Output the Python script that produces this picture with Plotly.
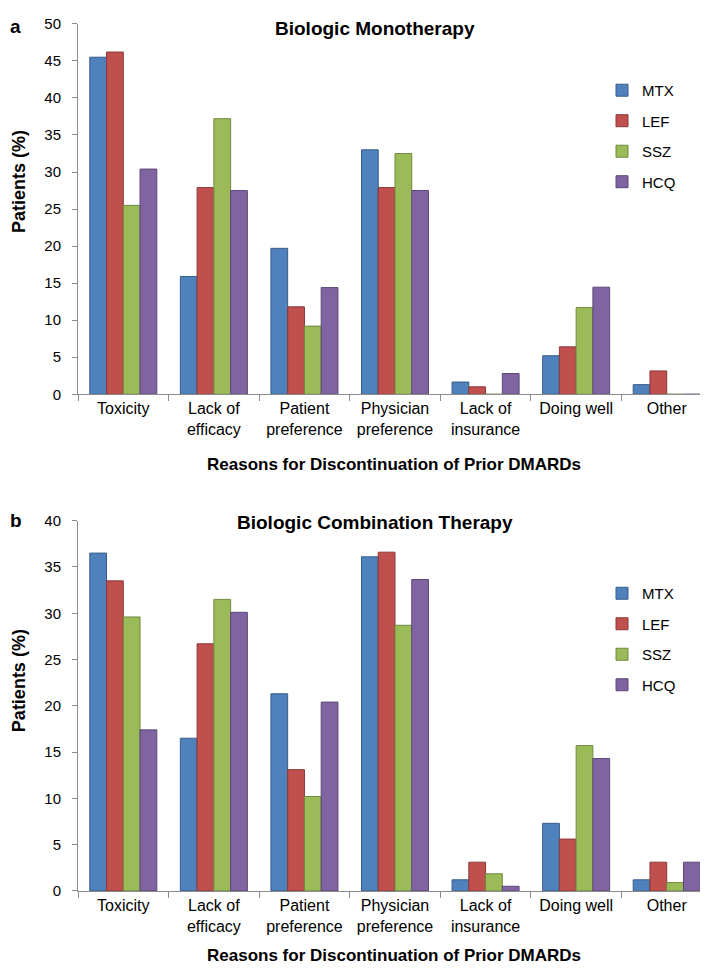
import plotly.graph_objects as go

categories = ["Toxicity", "Lack of<br>efficacy", "Patient<br>preference", "Physician<br>preference",
              "Lack of<br>insurance", "Doing well", "Other"]
series_names = ["MTX", "LEF", "SSZ", "HCQ"]

# Panel a: Biologic Monotherapy
mono_mtx = [45.5, 15.9, 19.7, 33.0, 1.65, 5.2, 1.3]
mono_lef = [46.2, 27.9, 11.8, 27.9, 1.0, 6.4, 3.15]
mono_ssz = [25.5, 37.2, 9.2, 32.5, 0.0, 11.7, 0.0]
mono_hcq = [30.4, 27.5, 14.4, 27.5, 2.8, 14.45, 0.0]

# Panel b: Biologic Combination Therapy
comb_mtx = [36.5, 16.5, 21.3, 36.1, 1.2, 7.3, 1.2]
comb_lef = [33.5, 26.7, 13.1, 36.6, 3.1, 5.6, 3.1]
comb_ssz = [29.6, 31.5, 10.2, 28.7, 1.85, 15.7, 0.9]
comb_hcq = [17.4, 30.1, 20.4, 33.65, 0.5, 14.3, 3.1]

fill_colors = ["#4F81BD", "#C0504D", "#9BBB59", "#8064A2"]
line_colors = ["#385D8A", "#8C3836", "#71893F", "#5C4776"]

FONT = "Liberation Sans, Arial, sans-serif"

fig = go.Figure()

mono = [mono_mtx, mono_lef, mono_ssz, mono_hcq]
comb = [comb_mtx, comb_lef, comb_ssz, comb_hcq]

for i, name in enumerate(series_names):
    fig.add_trace(go.Bar(
        x=categories, y=mono[i], name=name,
        marker=dict(color=fill_colors[i], line=dict(color=line_colors[i], width=1)),
        xaxis="x", yaxis="y", legend="legend", legendgroup="a" + name,
    ))
for i, name in enumerate(series_names):
    fig.add_trace(go.Bar(
        x=categories, y=comb[i], name=name,
        marker=dict(color=fill_colors[i], line=dict(color=line_colors[i], width=1)),
        xaxis="x2", yaxis="y2", legend="legend2", legendgroup="b" + name,
    ))

W, H = 708, 969
xdom = [70 / W, 704 / W]
top_dom = [(H - 384) / H, (H - 7) / H]
bot_dom = [(H - 889.5) / H, (H - 512.7) / H]

axis_color = "#8C8C8C"
xaxis_common = dict(
    showline=True, linecolor=axis_color, linewidth=1,
    ticks="outside", tickson="boundaries", ticklen=6, tickcolor=axis_color,
    showgrid=False, tickfont=dict(family=FONT, size=16, color="#000"),
    domain=xdom, fixedrange=True,
)
yaxis_common = dict(
    showline=True, linecolor=axis_color, linewidth=1,
    ticks="outside", ticklen=5, tickcolor=axis_color, ticklabelstandoff=8,
    showgrid=False, zeroline=False, tickfont=dict(family=FONT, size=15, color="#000"),
    dtick=5, fixedrange=True,
)

legend_common = dict(
    font=dict(family=FONT, size=15, color="#000"),
    traceorder="grouped", tracegroupgap=8, itemwidth=30,
    bgcolor="rgba(0,0,0,0)", xanchor="left", yanchor="top",
)

fig.update_layout(
    width=W, height=H,
    margin=dict(l=0, r=0, t=0, b=0),
    paper_bgcolor="white", plot_bgcolor="white",
    barmode="group", bargap=0.26, bargroupgap=0,
    font=dict(family=FONT, color="#000"),
    xaxis=dict(**xaxis_common, anchor="y"),
    yaxis=dict(**yaxis_common, domain=top_dom, range=[0, 50], anchor="x"),
    xaxis2=dict(**xaxis_common, anchor="y2"),
    yaxis2=dict(**yaxis_common, domain=bot_dom, range=[0, 40], anchor="x2"),
    legend=dict(**legend_common, x=594 / W, y=1 - 58 / H),
    legend2=dict(**legend_common, x=594 / W, y=1 - 570 / H),
    showlegend=True,
)

def ann(text, x, y, size, bold=True, angle=0, xanchor="center"):
    fig.add_annotation(
        text=("<b>%s</b>" % text) if bold else text,
        x=x / W, y=1 - y / H, xref="paper", yref="paper",
        showarrow=False, textangle=angle, xanchor=xanchor, yanchor="middle",
        font=dict(family=FONT, size=size, color="#000"),
    )

ann("Biologic Monotherapy", 367, 12, 19)
ann("Biologic Combination Therapy", 367, 515, 19)
ann("a", 0, 10, 19, xanchor="left")
ann("b", 0, 512, 19, xanchor="left")
ann("Patients (%)", 11, 168, 18, angle=-90)
ann("Patients (%)", 11, 676, 18, angle=-90)
ann("Reasons for Discontinuation of Prior DMARDs", 386, 455, 17)
ann("Reasons for Discontinuation of Prior DMARDs", 386, 955, 17)

fig.write_html("out.html")
